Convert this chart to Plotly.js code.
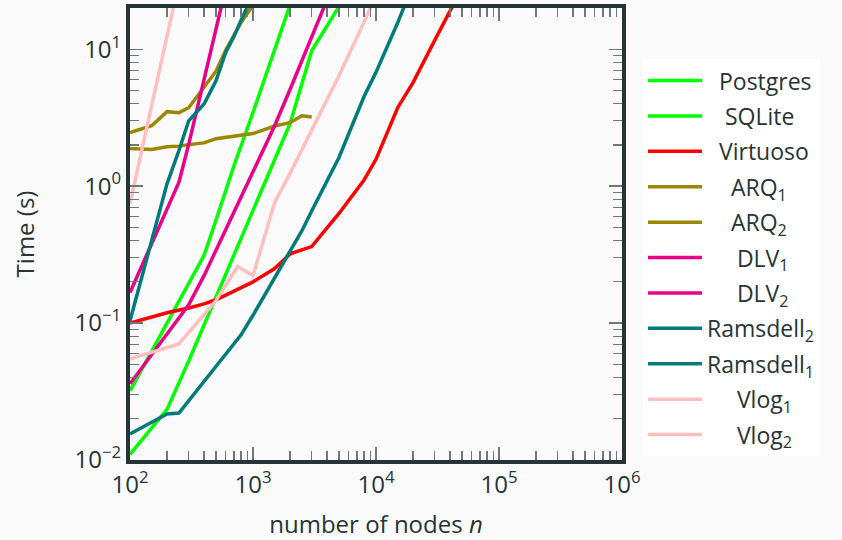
<!DOCTYPE html>
<html>
<head>
<meta charset="utf-8">
<script src="https://cdn.plot.ly/plotly-3.0.1.min.js"></script>
<style>
  html, body { margin: 0; padding: 0; background: #fafafa; }
  #chart { width: 842px; height: 540px; }
</style>
</head>
<body>
<div id="chart"></div>
<script>
// ---- data (n = number of nodes, t = time in seconds) ----
const postgresN = [100, 200, 300, 400, 500, 700, 1000, 2000];
const postgresT = [0.032, 0.100, 0.195, 0.312, 0.563, 1.41, 3.45, 21];

const sqliteN = [100, 200, 300, 400, 500, 700, 1000, 1500, 2000, 3000, 5000];
const sqliteT = [0.011, 0.0234, 0.0528, 0.0967, 0.155, 0.315, 0.665, 1.56, 2.86, 9.75, 20.5];

const virtuosoN = [100, 200, 300, 400, 500, 700, 800, 1000, 1500, 2000, 3000, 4000, 5000, 8000, 10000, 15000, 20000, 30000, 40000, 50000];
const virtuosoT = [0.1, 0.119, 0.129, 0.138, 0.148, 0.171, 0.18, 0.2, 0.25, 0.32, 0.362, 0.50, 0.632, 1.11, 1.57, 3.74, 5.7, 11.6, 18.7, 28];

const arq1N = [100, 150, 200, 250, 300, 350, 400, 500, 600, 700, 800, 1000];
const arq1T = [2.46, 2.76, 3.5, 3.44, 3.74, 4.51, 5.29, 6.91, 9.84, 12.6, 15.7, 21];

const arq2N = [100, 150, 200, 250, 300, 400, 500, 700, 1000, 1500, 2000, 2500, 3000];
const arq2T = [1.88, 1.85, 1.94, 1.96, 2.01, 2.07, 2.22, 2.33, 2.42, 2.75, 2.91, 3.27, 3.2];

const dlv1N = [100, 200, 250, 300, 400, 500, 600];
const dlv1T = [0.167, 0.664, 1.07, 2.02, 6.02, 14.1, 28];

const dlv2N = [100, 200, 300, 400, 500, 700, 1000, 1500, 2000, 3000, 4000];
const dlv2T = [0.036, 0.083, 0.136, 0.222, 0.34, 0.65, 1.25, 2.76, 5.08, 12.3, 23];

const ramsdell2N = [100, 200, 250, 500, 800, 1000, 1500, 2000, 2500, 3000, 4000, 5000, 8000, 10000, 15000, 20000];
const ramsdell2T = [0.0155, 0.0217, 0.022, 0.0476, 0.082, 0.114, 0.213, 0.335, 0.473, 0.658, 1.09, 1.62, 4.51, 6.78, 15.6, 29.6];

const ramsdell1N = [100, 200, 250, 300, 400, 500, 600, 700, 800, 1000];
const ramsdell1T = [0.104, 1.04, 1.82, 3.0, 3.98, 5.89, 9.48, 12.4, 16.3, 25];

const vlog1N = [100, 200, 250];
const vlog1T = [0.75, 12.5, 31];

const vlog2N = [100, 250, 500, 750, 1000, 1250, 1500, 2000, 3000, 5000, 8000, 10000];
const vlog2T = [0.0548, 0.0705, 0.146, 0.259, 0.222, 0.435, 0.762, 1.24, 2.54, 6.41, 15.8, 24.7];

// ---- series names and tick labels ----
const seriesNames = ['Postgres', 'SQLite', 'Virtuoso', 'ARQ<sub>1</sub>', 'ARQ<sub>2</sub>', 'DLV<sub>1</sub>', 'DLV<sub>2</sub>',
                     'Ramsdell<sub>2</sub>', 'Ramsdell<sub>1</sub>', 'Vlog<sub>1</sub>', 'Vlog<sub>2</sub>'];
const xTickVals = [100, 1000, 10000, 100000, 1000000];
const xTickText = ['10<sup>2</sup>', '10<sup>3</sup>', '10<sup>4</sup>', '10<sup>5</sup>', '10<sup>6</sup>'];
const yTickVals = [0.01, 0.1, 1, 10];
const yTickText = ['10<sup>\u22122</sup>', '10<sup>\u22121</sup>', '10<sup>0</sup>', '10<sup>1</sup>'];

// ---- styling ----
const GREEN = '#00ff00', RED = '#ff0000', OLIVE = '#9a8700', MAGENTA = '#ea0088', TEAL = '#007b7b', PINK = '#ffbfbf';
const INK = '#263436';
const TICK = '#6f7779';
const FONT = 'Open Sans, Noto Sans, sans-serif';
// leading non-breaking spaces to centre the legend labels as in the reference
const legendPad = [2, 3, 2, 4, 4, 5, 5, 0, 0, 5, 5];

const seriesData = [
  [postgresN, postgresT, GREEN], [sqliteN, sqliteT, GREEN], [virtuosoN, virtuosoT, RED],
  [arq1N, arq1T, OLIVE], [arq2N, arq2T, OLIVE], [dlv1N, dlv1T, MAGENTA], [dlv2N, dlv2T, MAGENTA],
  [ramsdell2N, ramsdell2T, TEAL], [ramsdell1N, ramsdell1T, TEAL], [vlog1N, vlog1T, PINK], [vlog2N, vlog2T, PINK]
];

const traces = seriesData.map((s, i) => ({
  type: 'scatter', mode: 'lines',
  name: '\u00a0'.repeat(legendPad[i]) + seriesNames[i],
  x: s[0], y: s[1],
  line: { color: s[2], width: 3.5 }, legendgroup: 'g' + i
}));

const yMax = 20;
const yTop = Math.log10(yMax);
function minorVals(lo, hi, maxVal) {
  const v = [];
  for (let e = lo; e < hi; e++) for (let d = 2; d <= 9; d++) {
    const m = d * Math.pow(10, e);
    if (m < maxVal) v.push(m);
  }
  return v;
}

const axisCommon = {
  type: 'log', showgrid: false, zeroline: false,
  showline: true, linecolor: INK, linewidth: 4, mirror: 'allticks',
  ticks: 'inside', ticklen: 13, tickwidth: 1.4, tickcolor: TICK,
  tickfont: { family: FONT, size: 24, color: INK },
  tickmode: 'array', automargin: false
};
const minorCommon = { ticks: 'inside', ticklen: 9, tickwidth: 1.2, tickcolor: TICK, showgrid: false, tickmode: 'array' };

const layout = {
  width: 842, height: 540,
  paper_bgcolor: '#fafafa', plot_bgcolor: '#fafafa',
  margin: { l: 130, r: 220, t: 8, b: 80 },
  font: { family: FONT, size: 24, color: INK },
  showlegend: true,
  xaxis: Object.assign({}, axisCommon, {
    range: [2, 6], tickvals: xTickVals, ticktext: xTickText,
    minor: Object.assign({}, minorCommon, { tickvals: minorVals(2, 6, Infinity) }),
    title: { text: 'number of nodes <i>n</i>', font: { family: FONT, size: 24, color: INK }, standoff: 22 }
  }),
  yaxis: Object.assign({}, axisCommon, {
    range: [-2, yTop], tickvals: yTickVals, ticktext: yTickText,
    minor: Object.assign({}, minorCommon, { tickvals: minorVals(-2, 2, yMax) }),
    title: { text: 'Time (s)', font: { family: FONT, size: 24, color: INK }, standoff: 34 }
  }),
  legend: {
    x: 1.0427, y: 0.887, xanchor: 'left', yanchor: 'top',
    bgcolor: '#ffffff', borderwidth: 0,
    font: { family: FONT, size: 23, color: INK },
    tracegroupgap: 2.5, traceorder: 'grouped', itemwidth: 54
  }
};

Plotly.newPlot('chart', traces, layout, { staticPlot: true, displayModeBar: false });
</script>
</body>
</html>
